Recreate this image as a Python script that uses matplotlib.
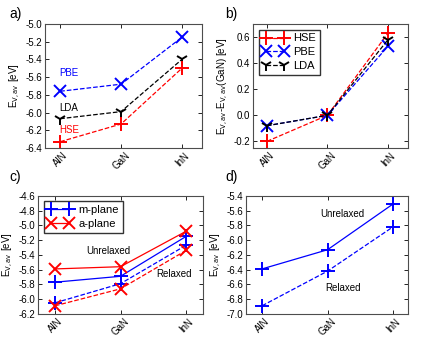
import matplotlib
matplotlib.use("Agg")
from matplotlib import pyplot as plt

materials = ["AlN", "GaN", "InN"]
xpos = [0, 1, 2]

# a) absolute valence band average
hse_abs = [-6.33, -6.13, -5.50]
pbe_abs = [-5.76, -5.68, -5.15]
lda_abs = [-6.07, -5.99, -5.40]

# b) relative to GaN
hse_rel = [-0.20, 0.0, 0.63]
pbe_rel = [-0.08, 0.0, 0.53]
lda_rel = [-0.08, 0.0, 0.58]

# c) m-plane / a-plane
m_unrelaxed = [-5.77, -5.69, -5.15]
m_relaxed = [-6.05, -5.79, -5.27]
a_unrelaxed = [-5.59, -5.56, -5.08]
a_relaxed = [-6.09, -5.86, -5.34]

# d)
d_unrelaxed = [-6.39, -6.13, -5.51]
d_relaxed = [-6.89, -6.42, -5.82]

FS = 7
plt.rcParams['font.family'] = ['Liberation Sans', 'DejaVu Sans']
plt.rcParams['font.size'] = FS


def style_axes(ax, xlim, ylim, yticks):
    ax.set_xlim(*xlim)
    ax.set_ylim(*ylim)
    ax.set_xticks(xpos)
    ax.set_xticklabels(materials, rotation=45, fontsize=FS)
    ax.set_yticks(yticks)
    ax.set_yticklabels(["%.1f" % t for t in yticks], fontsize=FS)
    ax.tick_params(direction='in', top=True, right=True, length=3, width=0.6, pad=2)
    for s in ax.spines.values():
        s.set_linewidth(0.8)
        s.set_color('0.3')


fig = plt.figure(figsize=(4.31, 3.48), dpi=100)

ylab = r"E$_{\rm V,av}$ [eV]"
leg_kw = dict(loc='upper left', numpoints=2, fontsize=8, handlelength=2.2,
              fancybox=False, edgecolor='k', borderpad=0.35, labelspacing=0.35,
              handletextpad=0.6)

# panel a
ax = fig.add_axes([0.1044, 0.575, 0.3643, 0.356])
ax.plot(xpos, pbe_abs, 'b--', marker='x', ms=9, mew=1.4, lw=0.9)
ax.plot(xpos, lda_abs, 'k--', marker='1', ms=9, mew=1.4, lw=0.9)
ax.plot(xpos, hse_abs, 'r--', marker='+', ms=10, mew=1.4, lw=0.9)
ax.text(-0.02, -5.55, "PBE", color='b', fontsize=FS, va='center')
ax.text(-0.02, -5.95, "LDA", color='k', fontsize=FS, va='center')
ax.text(-0.02, -6.20, "HSE", color='r', fontsize=FS, va='center')
style_axes(ax, (-0.25, 2.33), (-6.4, -5.0), [-6.4, -6.2, -6.0, -5.8, -5.6, -5.4, -5.2, -5.0])
ax.set_ylabel(ylab, fontsize=FS, labelpad=2)

# panel b
ax = fig.add_axes([0.587, 0.575, 0.3596, 0.356])
ax.plot(xpos, hse_rel, 'r--', marker='+', ms=10, mew=1.4, lw=0.9, label="HSE")
ax.plot(xpos, pbe_rel, 'b--', marker='x', ms=9, mew=1.4, lw=0.9, label="PBE")
ax.plot(xpos, lda_rel, 'k--', marker='1', ms=9, mew=1.4, lw=0.9, label="LDA")
style_axes(ax, (-0.23, 2.33), (-0.25, 0.7), [-0.2, 0.0, 0.2, 0.4, 0.6])
ax.set_ylabel(r"E$_{\rm V,av}$-E$_{\rm V,av}$(GaN) [eV]", fontsize=FS, labelpad=2)
ax.legend(**leg_kw)

# panel c
ax = fig.add_axes([0.0882, 0.098, 0.3828, 0.339])
ax.plot(xpos, m_unrelaxed, 'b-', marker='+', ms=10, mew=1.4, lw=0.9, label="m-plane")
ax.plot(xpos, a_unrelaxed, 'r-', marker='x', ms=9, mew=1.4, lw=0.9, label="a-plane")
ax.plot(xpos, m_relaxed, 'b--', marker='+', ms=10, mew=1.4, lw=0.9)
ax.plot(xpos, a_relaxed, 'r--', marker='x', ms=9, mew=1.4, lw=0.9)
ax.text(0.82, -5.35, "Unrelaxed", fontsize=FS, ha='center', va='center')
ax.text(1.82, -5.66, "Relaxed", fontsize=FS, ha='center', va='center')
style_axes(ax, (-0.26, 2.26), (-6.2, -4.6), [-6.2, -6.0, -5.8, -5.6, -5.4, -5.2, -5.0, -4.8, -4.6])
ax.set_ylabel(ylab, fontsize=FS, labelpad=2)
ax.legend(**leg_kw)

# panel d
ax = fig.add_axes([0.5708, 0.098, 0.3759, 0.339])
ax.plot(xpos, d_unrelaxed, 'b-', marker='+', ms=10, mew=1.4, lw=0.9)
ax.plot(xpos, d_relaxed, 'b--', marker='+', ms=10, mew=1.4, lw=0.9)
ax.text(1.23, -5.65, "Unrelaxed", fontsize=FS, ha='center', va='center')
ax.text(1.23, -6.65, "Relaxed", fontsize=FS, ha='center', va='center')
style_axes(ax, (-0.245, 2.23), (-7.0, -5.4), [-7.0, -6.8, -6.6, -6.4, -6.2, -6.0, -5.8, -5.6, -5.4])
ax.set_ylabel(ylab, fontsize=FS, labelpad=2)

# panel letters
for lab, x, y in [("a)", 0.022, 0.96), ("b)", 0.522, 0.96),
                  ("c)", 0.022, 0.49), ("d)", 0.522, 0.49)]:
    fig.text(x, y, lab, fontsize=10, va='center')

fig.savefig("out.png", dpi=100)
